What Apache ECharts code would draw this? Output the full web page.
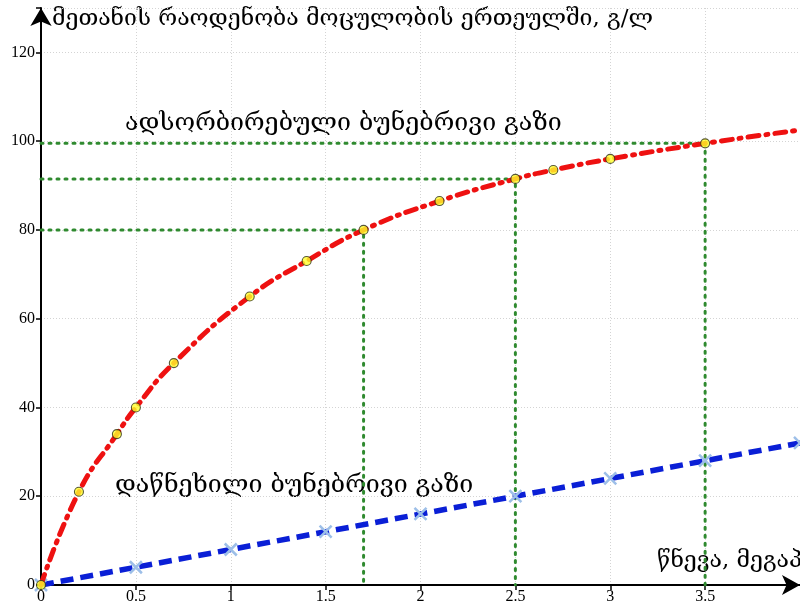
<!DOCTYPE html>
<html>
<head>
<meta charset="utf-8">
<script src="https://cdn.jsdelivr.net/npm/echarts@6/dist/echarts.min.js"></script>
<style>
  html, body { margin: 0; padding: 0; background: #fff; }
  #chart { width: 800px; height: 605px; }
</style>
</head>
<body>
<div id="chart"></div>
<script>
// Adsorbed natural gas: pressure (MPa) and methane amount (g/L)
const adsPressure = [0, 0.2, 0.4, 0.5, 0.7, 1.1, 1.4, 1.7, 2.1, 2.5, 2.7, 3.0, 3.5];
const adsVolume   = [0, 21, 34, 40, 50, 65, 73, 80, 86.5, 91.5, 93.5, 96, 99.5];
// Curve continues to the end of the axis
const adsTailPressure = [4];
const adsTailVolume   = [102.5];

// Compressed natural gas
const cngPressure = [0, 0.5, 1, 1.5, 2, 2.5, 3, 3.5, 4];
const cngVolume   = [0, 4, 8, 12, 16, 20, 24, 28, 32];

// Points highlighted with reference guides (indices into the adsorbed arrays)
const guideIdx = [7, 9, 12];

const xTicks = [0, 0.5, 1, 1.5, 2, 2.5, 3, 3.5];
const yTicks = [0, 20, 40, 60, 80, 100, 120];

const yTitle = 'მეთანის რაოდენობა მოცულობის ერთეულში, გ/ლ';
const xTitle = 'წნევა, მეგაპასკალი';
const adsLabel = 'ადსორბირებული ბუნებრივი გაზი';
const cngLabel = 'დაწნეხილი ბუნებრივი გაზი';

const georgianFont = '"DejaVu Serif", "DejaVu Sans", serif';
const tickFont = '"Liberation Serif", "Times New Roman", serif';

const pairs = (xs, ys) => xs.map((x, i) => [x, ys[i]]);

const adsCurve = pairs(adsPressure.concat(adsTailPressure), adsVolume.concat(adsTailVolume));

const guideSeries = guideIdx.map(i => ({
  type: 'line',
  data: [[0, adsVolume[i]], [adsPressure[i], adsVolume[i]], [adsPressure[i], 0]],
  symbol: 'none',
  silent: true,
  z: 2,
  lineStyle: { color: '#2f8a2f', width: 3, type: [2, 6], cap: 'round' }
}));

const crossPath = 'path://M0,0 L10,10 M10,0 L0,10';

const chart = echarts.init(document.getElementById('chart'));
chart.setOption({
  animation: false,
  backgroundColor: '#ffffff',
  grid: { left: 41, right: 0, top: 8, bottom: 20, containLabel: false },
  xAxis: {
    type: 'value',
    min: 0, max: 4, interval: 0.5,
    axisLine: { show: true, onZero: false, lineStyle: { color: '#000', width: 2 },
      symbol: ['none', 'arrow'], symbolSize: [15, 18] },
    axisTick: { show: true, length: 5, lineStyle: { color: '#000', width: 1.5 } },
    axisLabel: {
      showMaxLabel: false,
      color: '#000', fontFamily: tickFont, fontSize: 16, margin: 4,
      formatter: v => xTicks.includes(v) ? String(v) : ''
    },
    splitLine: { show: true, lineStyle: { color: '#d4d4d4', width: 1, type: [1, 2] } }
  },
  yAxis: {
    type: 'value',
    min: 0, max: 130, interval: 20,
    axisLine: { show: true, onZero: false, lineStyle: { color: '#000', width: 2 },
      symbol: ['none', 'arrow'], symbolSize: [16, 18] },
    axisTick: { show: true, length: 5, lineStyle: { color: '#000', width: 1.5 } },
    axisLabel: {
      color: '#000', fontFamily: tickFont, fontSize: 16, margin: 6,
      formatter: v => yTicks.includes(v) ? String(v) : ''
    },
    splitLine: { show: true, lineStyle: { color: '#d4d4d4', width: 1, type: [1, 2] } }
  },
  series: guideSeries.concat([
    {
      type: 'line',
      data: pairs(cngPressure, cngVolume),
      symbol: crossPath,
      symbolSize: 12,
      showSymbol: true,
      z: 3,
      itemStyle: { color: 'rgba(0,0,0,0)', borderColor: '#9dbfe8', borderWidth: 2.5 },
      lineStyle: { color: '#0a1fd6', width: 5.5, type: [13, 7] }
    },
    {
      type: 'line',
      data: adsCurve,
      smooth: 0.5,
      symbol: 'none',
      z: 4,
      lineStyle: { color: '#ee1111', width: 5, type: [11, 7, 2, 7], cap: 'round' }
    },
    {
      type: 'scatter',
      data: pairs(adsPressure, adsVolume),
      symbol: 'circle',
      symbolSize: 9,
      z: 5,
      itemStyle: { color: '#ffff2a', borderColor: '#2e2e14', borderWidth: 1.1 }
    }
  ]),
  graphic: [
    { type: 'text', left: 52, top: 8,
      style: { text: yTitle, font: '23px ' + georgianFont, fill: '#000' } },
    { type: 'text', left: 657, top: 550,
      style: { text: xTitle, font: '23px ' + georgianFont, fill: '#000' } },
    { type: 'text', left: 125, top: 111,
      style: { text: adsLabel, font: '25px ' + georgianFont, fill: '#000' } },
    { type: 'text', left: 115, top: 473,
      style: { text: cngLabel, font: '25px ' + georgianFont, fill: '#000' } }
  ]
});
</script>
</body>
</html>
